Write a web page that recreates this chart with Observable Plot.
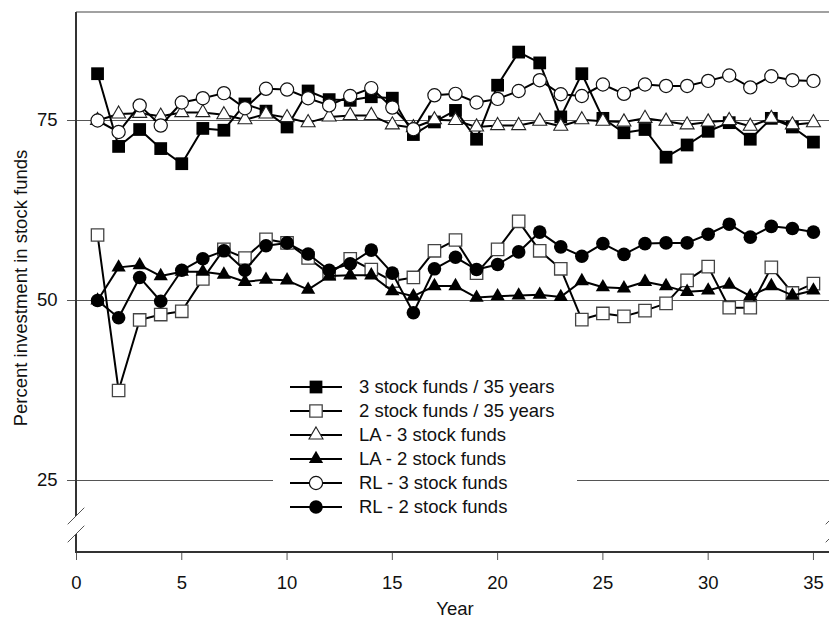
<!DOCTYPE html>
<html>
<head>
<meta charset="utf-8">
<script src="https://cdn.jsdelivr.net/npm/d3@7"></script>
<script src="https://cdn.jsdelivr.net/npm/@observablehq/plot@0.6"></script>
<style>
  html, body { margin: 0; padding: 0; background: #fff; overflow: hidden; }
  #wrap { position: relative; width: 829px; height: 621px; }
  .legend { position: absolute; left: 273px; top: 375px; width: 304px; height: 144px; background: #fff;
            font-family: "Liberation Sans", Arial, Helvetica, sans-serif; font-size: 18.5px; color: #111; }
  .legend .row { display: flex; align-items: center; height: 24px; }
  .legend svg { flex: none; display: block; }
  .legend span { white-space: nowrap; line-height: 24px; }
</style>
</head>
<body>
<div id="wrap"></div>
<script>
// ---------- data ----------
const years = [1,2,3,4,5,6,7,8,9,10,11,12,13,14,15,16,17,18,19,20,21,22,23,24,25,26,27,28,29,30,31,32,33,34,35];
const seriesNames = [
  "3 stock funds / 35 years",
  "2 stock funds / 35 years",
  "LA - 3 stock funds",
  "LA - 2 stock funds",
  "RL - 3 stock funds",
  "RL - 2 stock funds"
];
const stock3_35 = [81.5,71.4,73.75,71.1,69.0,73.9,73.65,77.3,76.3,74.1, 79.1,77.9,77.8,78.3,78.1,73.05,74.8,76.4,72.4,79.9, 84.5,83.0,75.5,81.5,75.3,73.3,73.75,69.9,71.6,73.5, 74.7,72.4,75.3,74.1,72.0];
const stock2_35 = [59.1,37.5,47.3,48.05,48.5,53.0,57.1,55.9,58.5,58.0, 55.9,53.7,55.8,54.3,52.7,53.2,56.9,58.4,53.8,57.1, 61.0,56.9,54.4,47.35,48.2,47.8,48.6,49.6,52.8,54.7, 49.0,49.0,54.6,51.05,52.35];
const la3 = [75.0,75.9,76.0,75.6,76.1,76.1,75.8,75.1,75.9,75.4, 74.7,75.5,75.7,75.7,74.4,74.0,75.1,75.0,74.1,74.3, 74.3,74.9,74.2,75.1,74.9,74.8,75.3,74.9,74.4,74.8, 75.0,74.2,75.3,74.4,74.7];
const la2 = [50.0,54.6,54.9,53.4,54.0,54.0,53.6,52.6,52.9,52.8, 51.5,53.4,53.5,53.5,51.3,50.6,52.0,52.0,50.4,50.6, 50.7,50.8,50.5,52.7,51.85,51.7,52.6,52.0,51.2,51.4, 52.2,50.6,52.0,50.7,51.4];
const rl3 = [75.0,73.4,77.1,74.3,77.5,78.1,78.8,76.7,79.4,79.3, 78.1,77.1,78.4,79.5,76.8,73.8,78.5,78.7,77.5,78.0, 79.1,80.6,78.65,78.4,80.0,78.7,80.0,79.8,79.8,80.5, 81.25,79.6,81.15,80.6,80.5];
const rl2 = [50.0,47.6,53.2,49.9,54.2,55.8,56.9,54.2,57.6,58.0, 56.45,54.2,55.1,57.0,53.8,48.3,54.4,56.0,54.3,55.0, 56.75,59.5,57.45,56.15,57.9,56.4,57.9,58.0,58.0,59.2, 60.6,58.8,60.3,60.0,59.5];
const seriesValues = [stock3_35, stock2_35, la3, la2, rl3, rl2];
const yTicks = [25, 50, 75];
const xTicks = [0, 5, 10, 15, 20, 25, 30, 35];
const xDomain = [0, 36];
const yDomain = [15, 90];
const yBreak = 18.75;
const yLabel = "Percent investment in stock funds";
const xLabel = "Year";

// ---------- styles ----------
const styles = [
  {symbol: "square",   type: d3.symbolSquare,   r: 7.2, fill: "#000", stroke: "none", sw: 0},
  {symbol: "square",   type: d3.symbolSquare,   r: 7.0, fill: "#fff", stroke: "#444", sw: 1.3},
  {symbol: "triangle", type: d3.symbolTriangle, r: 5.2, fill: "#fff", stroke: "#222", sw: 1.1},
  {symbol: "triangle", type: d3.symbolTriangle, r: 5.3, fill: "#000", stroke: "none", sw: 0},
  {symbol: "circle",   type: d3.symbolCircle,   r: 6.6, fill: "#fff", stroke: "#111", sw: 1.2},
  {symbol: "circle",   type: d3.symbolCircle,   r: 6.8, fill: "#000", stroke: "none", sw: 0}
];

const tables = seriesValues.map((vals, i) => years.map((yr, j) => ({year: yr, value: vals[j], series: seriesNames[i]})));

// decorations: axis lines, top border, break marks and axis titles
function decor(index, scales, values, dimensions) {
  const {x, y} = scales;
  const {width} = dimensions;
  const x0 = x(xDomain[0]), xR = x(xDomain[1]);
  const yTop = y(yDomain[1]), yBot = y(yDomain[0]);
  const yc = y(yBreak);
  const gapHalf = 9, s = 8.3;
  const g = d3.create("svg:g");
  g.append("line").attr("x1", x0).attr("x2", width).attr("y1", yTop).attr("y2", yTop)
    .attr("stroke", "#444").attr("stroke-width", 1.2);
  g.append("line").attr("x1", x0).attr("x2", x0).attr("y1", yTop).attr("y2", yc - gapHalf)
    .attr("stroke", "#333").attr("stroke-width", 2);
  g.append("line").attr("x1", x0).attr("x2", x0).attr("y1", yc + gapHalf).attr("y2", yBot)
    .attr("stroke", "#333").attr("stroke-width", 2);
  g.append("line").attr("x1", x0 - 1).attr("x2", width).attr("y1", yBot).attr("y2", yBot)
    .attr("stroke", "#333").attr("stroke-width", 2);
  for (const xc of [x0, xR]) {
    for (const c of [yc - gapHalf, yc + gapHalf]) {
      g.append("line").attr("x1", xc - s).attr("y1", c + s).attr("x2", xc + s).attr("y2", c - s)
        .attr("stroke", "#555").attr("stroke-width", 1);
    }
  }
  // axis titles
  const yMid = (yTop + yBot) / 2 + 6;
  g.append("text").attr("transform", `translate(27,${yMid}) rotate(-90)`)
    .attr("text-anchor", "middle").attr("fill", "#111").text(yLabel);
  g.append("text").attr("x", (x0 + xR) / 2).attr("y", 615)
    .attr("text-anchor", "middle").attr("fill", "#111").text(xLabel);
  return g.node();
}

const marks = [
  Plot.ruleY(yTicks, {stroke: "#555", strokeWidth: 1}),
  Plot.axisY(yTicks, {tickSize: 9, tickPadding: 10, stroke: "#555", tickFormat: d => String(d), label: null}),
  Plot.axisX(xTicks, {tickSize: 8, tickPadding: 15, stroke: "#555", tickFormat: d => String(d), label: null}),
  decor
];
tables.forEach((t, i) => {
  const st = styles[i];
  marks.push(Plot.line(t, {x: "year", y: "value", stroke: "#000", strokeWidth: 2}));
  marks.push(Plot.dot(t, {x: "year", y: "value", symbol: st.symbol, r: st.r, fill: st.fill,
    stroke: st.stroke, strokeWidth: st.sw}));
});

const plot = Plot.plot({
  width: 829, height: 621,
  marginLeft: 76, marginRight: 0, marginTop: 12, marginBottom: 69,
  style: {fontFamily: '"Liberation Sans", Arial, Helvetica, sans-serif', fontSize: "18.5px", color: "#111", background: "#fff", overflow: "hidden"},
  x: {domain: xDomain, range: [76, 834]},
  y: {domain: yDomain},
  marks
});
const wrap = document.getElementById("wrap");
wrap.appendChild(plot);

// legend (HTML overlay with white background, as in the original)
const legend = d3.select(wrap).append("div").attr("class", "legend");
seriesNames.forEach((name, i) => {
  const st = styles[i];
  const row = legend.append("div").attr("class", "row");
  const svg = row.append("svg").attr("width", 86).attr("height", 24);
  svg.append("line").attr("x1", 17).attr("x2", 69).attr("y1", 12).attr("y2", 12)
    .attr("stroke", "#000").attr("stroke-width", 2);
  svg.append("path").attr("transform", "translate(43,12)")
    .attr("d", d3.symbol(st.type, Math.PI * st.r * st.r)())
    .attr("fill", st.fill).attr("stroke", st.stroke).attr("stroke-width", st.sw);
  row.append("span").text(name);
});
</script>
</body>
</html>
